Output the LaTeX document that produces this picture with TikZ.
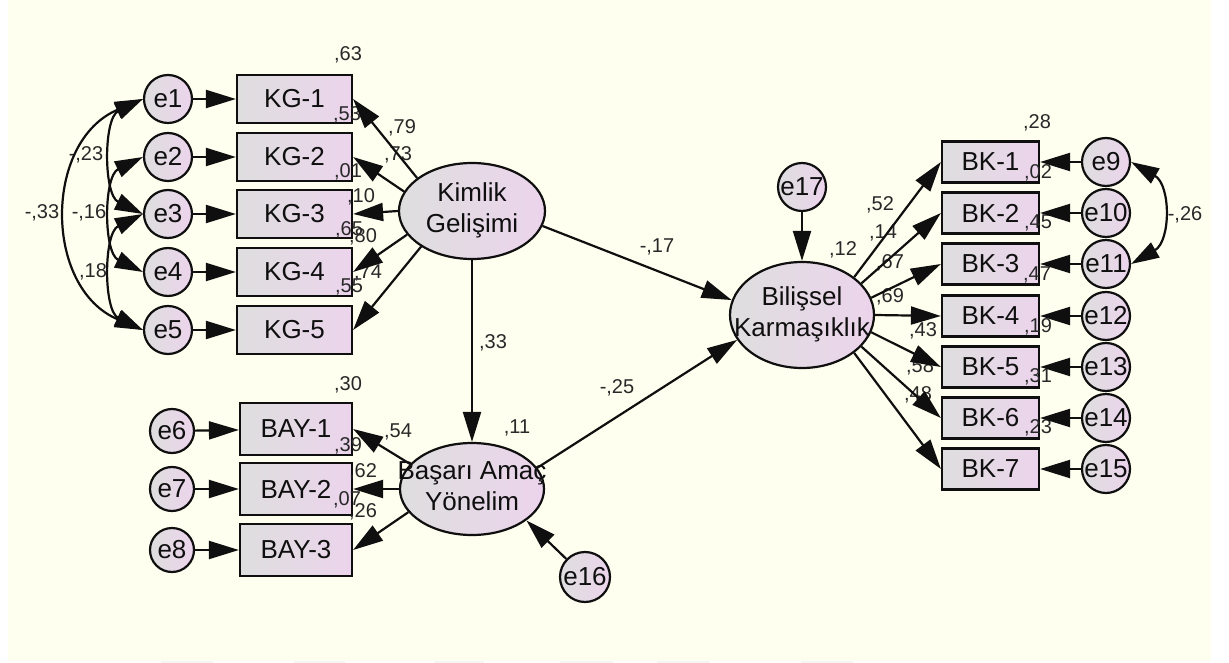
\documentclass[tikz,border=0pt]{standalone}
\usepackage{fontspec}
\setmainfont{Liberation Sans}
\usetikzlibrary{shapes.geometric,arrows.meta}

\definecolor{paper}{RGB}{255,255,240}
\definecolor{shadeL}{RGB}{222,222,222}
\definecolor{shadeR}{RGB}{236,212,236}
\definecolor{ink}{RGB}{15,15,15}
\definecolor{coefink}{RGB}{40,40,40}
\definecolor{ghost}{RGB}{245,245,245}

\newcommand\nodetxt{\fontsize{26}{31}\selectfont}
\newcommand\coeftxt{\fontsize{20}{22}\selectfont}
\newcommand\twolines[2]{\makebox[0pt]{\begin{tabular}{@{}c@{}}#1\\#2\end{tabular}}}

\tikzset{
  shaded/.style={draw=ink, line width=2.2pt, left color=shadeL, right color=shadeR,
                 inner sep=0pt, font=\nodetxt, text=ink},
  obs/.style={shaded, rectangle, minimum width=115pt, minimum height=48pt},
  obsB/.style={shaded, rectangle, minimum width=112pt, minimum height=52pt},
  obsK/.style={shaded, rectangle, minimum width=97pt, minimum height=41pt},
  err/.style={shaded, circle, minimum size=48pt},
  errS/.style={shaded, circle, minimum size=44pt},
  lat/.style={shaded, ellipse},
  coef/.style={font=\coeftxt, text=coefink, inner sep=0pt},
  arr/.style={draw=ink, line width=2.2pt, -{Triangle[length=30pt,width=18pt]}},
  cov/.style={draw=ink, line width=2.2pt,
              {Triangle[length=28pt,width=17pt]}-{Triangle[length=28pt,width=17pt]}},
}

\begin{document}
\begin{tikzpicture}[x=1pt,y=1pt]
\useasboundingbox (0,0) rectangle (1229,-663);
\fill[white] (0,0) rectangle (1229,-663);
\fill[paper] (8,0) rectangle (1211,-661);
% faint marks along the lower edge
\foreach \a/\b in {161/213,294/345,434/484,560/613,657/710,801/853}
  \fill[ghost] (\a,-661) rectangle (\b,-663);

% ---------- Kimlik Gelisimi block ----------
\node[err] (e1) at (168,-99)  {e1};
\node[err] (e2) at (168,-157) {e2};
\node[err] (e3) at (168,-214) {e3};
\node[err] (e4) at (168,-272) {e4};
\node[err] (e5) at (168,-330) {e5};

\node[obs] (kg1) at (294.5,-99)  {KG-1};
\node[obs] (kg2) at (294.5,-157) {KG-2};
\node[obs] (kg3) at (294.5,-214) {KG-3};
\node[obs] (kg4) at (294.5,-272) {KG-4};
\node[obs] (kg5) at (294.5,-330) {KG-5};

\node[lat, minimum width=146pt, minimum height=96pt] (kim) at (472,-211)
  {\twolines{Kimlik}{Gelişimi}};

% ---------- Basari Amac Yonelim block ----------
\node[errS] (e6) at (172,-431) {e6};
\node[errS] (e7) at (172,-489) {e7};
\node[errS] (e8) at (172,-550) {e8};

\node[obsB] (bay1) at (296,-429) {BAY-1};
\node[obsB] (bay2) at (296,-489) {BAY-2};
\node[obsB] (bay3) at (296,-550) {BAY-3};

\node[lat, minimum width=144pt, minimum height=92pt] (bas) at (472,-489)
  {\twolines{Başarı Amaç}{Yönelim}};
\node[shaded, circle, minimum size=50pt] (e16) at (585,-577) {e16};

% ---------- Bilissel Karmasiklik block ----------
\node[lat, minimum width=144pt, minimum height=106pt] (bil) at (802,-315)
  {\twolines{Bilişsel}{Karmaşıklık}};
\node[err] (e17) at (802,-187) {e17};

\node[obsK] (bk1) at (990.5,-162) {BK-1};
\node[obsK] (bk2) at (990.5,-213) {BK-2};
\node[obsK] (bk3) at (990.5,-264) {BK-3};
\node[obsK] (bk4) at (990.5,-316) {BK-4};
\node[obsK] (bk5) at (990.5,-367) {BK-5};
\node[obsK] (bk6) at (990.5,-418) {BK-6};
\node[obsK] (bk7) at (990.5,-469) {BK-7};

\node[err] (e9)  at (1106,-162) {e9};
\node[err] (e10) at (1106,-213) {e10};
\node[err] (e11) at (1106,-264) {e11};
\node[err] (e12) at (1106,-316) {e12};
\node[err] (e13) at (1106,-367) {e13};
\node[err] (e14) at (1106,-418) {e14};
\node[err] (e15) at (1106,-469) {e15};

% ---------- estimates ----------
\node[coef] (r1)  at (348,-55)  {,63};
\node[coef] (r2)  at (347,-115) {,53};
\node[coef] (w1)  at (402,-128) {,79};
\node[coef] (w2)  at (398,-155) {,73};
\node[coef] (r3)  at (348,-172) {,01};
\node[coef] (w3)  at (361,-197) {,10};
\node[coef] (r4)  at (349,-230) {,65};
\node[coef] (w4)  at (363,-237) {,80};
\node[coef] (w5)  at (368,-273) {,74};
\node[coef] (r5)  at (349,-287) {,55};
\node[coef] (c13) at (86,-155)  {-,23};
\node[coef] (c15) at (42,-213)  {-,33};
\node[coef] (c24) at (89,-213)  {-,16};
\node[coef] (c35) at (93,-272)  {,18};
\node[coef] (pkb) at (493,-343) {,33};
\node[coef] (pkk) at (657,-247) {-,17};
\node[coef] (pbk) at (617,-388) {-,25};
\node[coef] (rb)  at (517,-428) {,11};
\node[coef] (q1)  at (348,-385) {,30};
\node[coef] (v1)  at (398,-432) {,54};
\node[coef] (q2)  at (348,-446) {,39};
\node[coef] (v2)  at (363,-472) {,62};
\node[coef] (q3)  at (347,-500) {,07};
\node[coef] (v3)  at (363,-512) {,26};
\node[coef] (u1)  at (880,-205) {,52};
\node[coef] (u2)  at (883,-233) {,14};
\node[coef] (rk)  at (843,-250) {,12};
\node[coef] (u3)  at (890,-263) {,67};
\node[coef] (u4)  at (890,-297) {,69};
\node[coef] (u5)  at (923,-331) {,43};
\node[coef] (u6)  at (920,-367) {,58};
\node[coef] (u7)  at (918,-395) {,48};
\node[coef] (s1)  at (1037,-123) {,28};
\node[coef] (s2)  at (1038,-173) {,02};
\node[coef] (s3)  at (1038,-223) {,45};
\node[coef] (s4)  at (1037,-275) {,47};
\node[coef] (s5)  at (1038,-327) {,19};
\node[coef] (s6)  at (1038,-377) {,31};
\node[coef] (s7)  at (1038,-428) {,23};
\node[coef] (c911) at (1185,-215) {-,26};

% ---------- paths ----------
\foreach \i in {1,...,5} \draw[arr] (e\i) -- (kg\i);
\draw[arr] (kim.149) -- (kg1.east);
\draw[arr] (kim.164) -- (kg2.east);
\draw[arr] (kim.180) -- (kg3.east);
\draw[arr] (kim.200) -- (kg4.east);
\draw[arr] (kim.215) -- (kg5.east);

\draw[arr] (e6) -- (bay1);
\draw[arr] (e7) -- (bay2);
\draw[arr] (e8) -- (bay3);
\draw[arr] (bas.158) -- (bay1.east);
\draw[arr] (bas.180) -- (bay2.east);
\draw[arr] (bas.200) -- (bay3.east);

\draw[arr] (kim) -- (bas);
\draw[arr] (kim.-12) -- (bil.168);
\draw[arr] (bas.18) -- (bil.201);
\draw[arr] (e16) -- (bas.-30);
\draw[arr] (e17) -- (bil);

\draw[arr] (bil.36)  -- (bk1.west);
\draw[arr] (bil.28)  -- (bk2.west);
\draw[arr] (bil.14)  -- (bk3.west);
\draw[arr] (bil.0)   -- (bk4.west);
\draw[arr] (bil.-14) -- (bk5.west);
\draw[arr] (bil.-28) -- (bk6.west);
\draw[arr] (bil.-36) -- (bk7.west);

\foreach \i/\j in {9/1,10/2,11/3,12/4,13/5,14/6,15/7}
  \draw[arr] (e\i) -- (bk\j);

% ---------- covariances ----------
\draw[cov] (e1.west) to[out=203,in=157,distance=108pt] (e5.west);
\draw[cov] (e1.west) to[out=206,in=154,distance=44pt] (e3.west);
\draw[cov] (e2.west) to[out=206,in=154,distance=44pt] (e4.west);
\draw[cov] (e3.west) to[out=206,in=154,distance=44pt] (e5.west);
\draw[cov] (e9.east) to[out=-30,in=30,distance=46pt] (e11.east);
\end{tikzpicture}
\end{document}
